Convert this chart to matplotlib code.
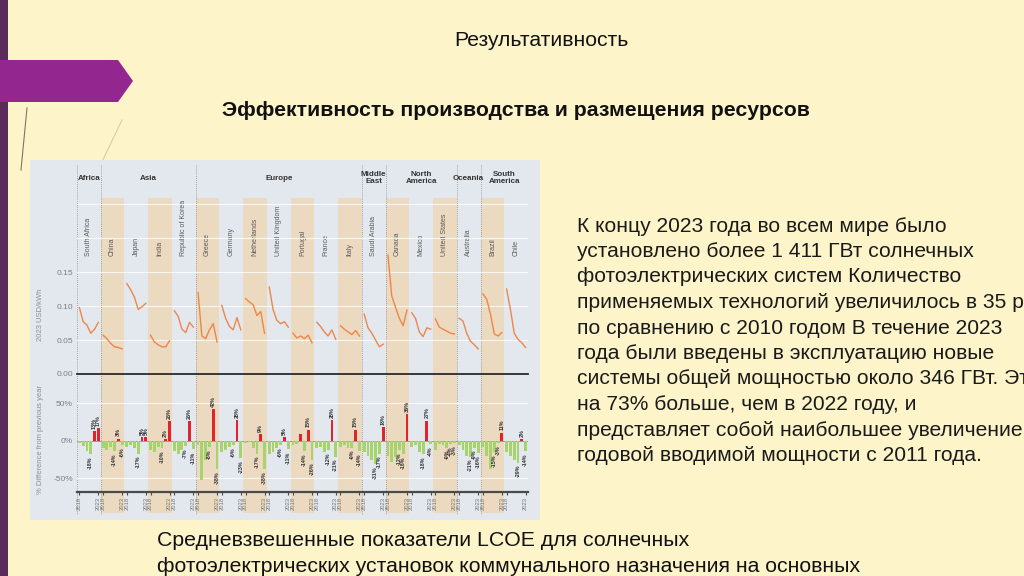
import numpy as np
import matplotlib
matplotlib.use('Agg')
import matplotlib.pyplot as plt
from matplotlib.patches import Polygon, Rectangle

plt.rcParams['font.family'] = ['Liberation Sans', 'DejaVu Sans']

# ---- data ----
regions = ['Africa', 'Asia', 'Europe', 'Middle\nEast', 'North\nAmerica', 'Oceania', 'South\nAmerica']
region_sizes = [1, 4, 7, 1, 3, 1, 2]
countries = ['South Africa', 'China', 'Japan', 'India', 'Republic of Korea',
             'Greece', 'Germany', 'Netherlands', 'United Kingdom', 'Portugal',
             'France', 'Italy', 'Saudi Arabia', 'Canada', 'Mexico',
             'United States', 'Australia', 'Brazil', 'Chile']
years = ['2018', '2019', '2020', '2021', '2022', '2023']

# LCOE, 2023 USD/kWh, 2018..2023
lcoe = [
    [0.098, 0.077, 0.072, 0.060, 0.066, 0.076],
    [0.057, 0.052, 0.045, 0.040, 0.039, 0.037],
    [0.133, 0.124, 0.113, 0.095, 0.099, 0.104],
    [0.057, 0.047, 0.043, 0.040, 0.040, 0.049],
    [0.093, 0.085, 0.066, 0.061, 0.076, 0.069],
    [0.120, 0.056, 0.052, 0.065, 0.074, 0.047],
    [0.101, 0.082, 0.070, 0.065, 0.083, 0.065],
    [0.111, 0.106, 0.102, 0.086, 0.092, 0.060],
    [0.128, 0.095, 0.079, 0.074, 0.077, 0.069],
    [0.060, 0.053, 0.056, 0.052, 0.057, 0.046],
    [0.076, 0.070, 0.062, 0.056, 0.065, 0.051],
    [0.071, 0.066, 0.062, 0.058, 0.064, 0.056],
    [0.088, 0.068, 0.060, 0.050, 0.040, 0.044],
    [0.175, 0.115, 0.098, 0.082, 0.071, 0.094],
    [0.090, 0.082, 0.062, 0.055, 0.068, 0.066],
    [0.081, 0.069, 0.066, 0.063, 0.060, 0.059],
    [0.082, 0.078, 0.060, 0.048, 0.043, 0.037],
    [0.118, 0.110, 0.088, 0.059, 0.056, 0.061],
    [0.125, 0.095, 0.060, 0.051, 0.046, 0.039],
]

# % difference from previous year, 2018..2023
pct = [
    [-3, -7, -14, -18, 13, 17],
    [-10, -12, -8, -14, 3, -6],
    [-8, -6, -10, -17, 5, 5],
    [-12, -15, -8, -10, 2, 26],
    [-14, -18, -12, -7, 26, -11],
    [-5, -52, -25, -8, 42, -38],
    [-15, -12, -8, -6, 28, -23],
    [-3, -2, -10, -17, 9, -38],
    [-18, -15, -10, -6, 5, -11],
    [-6, -4, 9, -14, 15, -26],
    [-10, -8, -15, -12, 28, -21],
    [-8, -6, -10, -9, 15, -14],
    [-15, -20, -25, -31, -17, 18],
    [-20, -28, -22, -12, -18, 36],
    [-8, -5, -15, -18, 27, -4],
    [-12, -4, -6, -9, -4, -3],
    [-5, -12, -20, -21, -9, -16],
    [-8, -20, -37, -15, -3, 11],
    [-15, -20, -25, -29, 2, -14],
]

body_lines = [
    'К концу 2023 года во всем мире было',
    'установлено более 1 411 ГВт солнечных',
    'фотоэлектрических систем Количество',
    'применяемых технологий увеличилось в 35 раз',
    'по сравнению с 2010 годом В течение 2023',
    'года были введены в эксплуатацию новые',
    'системы общей мощностью около 346 ГВт. Это',
    'на 73% больше, чем в 2022 году, и',
    'представляет собой наибольшее увеличение',
    'годовой вводимой мощности с 2011 года.',
]
bottom_lines = [
    'Средневзвешенные показатели LCOE для солнечных',
    'фотоэлектрических установок коммунального назначения на основных',
]

W, H = 1024, 576
BG = '#FEF4CA'
CHART_BG = '#E3E8EE'
TAN = '#EBDAC0'


def box(x0, y0, x1, y1):
    return [x0 / W, 1 - y1 / H, (x1 - x0) / W, (y1 - y0) / H]


fig = plt.figure(figsize=(W / 100, H / 100), dpi=100, facecolor=BG)

# slide decoration
slide = fig.add_axes([0, 0, 1, 1])
slide.set_xlim(0, W)
slide.set_ylim(H, 0)
slide.axis('off')
slide.add_patch(Rectangle((0, 0), 8, H, color='#5B2B5C', lw=0))
slide.add_patch(Polygon([(0, 60), (118, 60), (133, 81), (118, 102), (0, 102)], color='#93278F', lw=0))
slide.plot([27, 21], [108, 170], color='#7F7468', lw=0.8)
slide.plot([122, 98], [120, 170], color='#D9CCA4', lw=0.8)

slide.text(541, 41, 'Результативность', ha='center', va='center', fontsize=15.2, color='#111111')
slide.text(516, 110, 'Эффективность производства и размещения ресурсов', ha='center',
           va='center', fontsize=15.3, weight='bold', color='#111111')
for k, line in enumerate(body_lines):
    slide.text(577, 226 + k * 25.5, line, ha='left', va='center', fontsize=15.1, color='#1A1A1A')
for k, line in enumerate(bottom_lines):
    slide.text(157, 541 + k * 25, line, ha='left', va='center', fontsize=15.3, color='#111111')

# chart picture background
frame = fig.add_axes(box(30, 160, 540, 520))
frame.set_facecolor(CHART_BG)
frame.set_xlim(30, 540)
frame.set_ylim(520, 160)
frame.set_xticks([])
frame.set_yticks([])
for s in frame.spines.values():
    s.set_visible(False)
frame.text(40, 315, '2023 USD/kWh', rotation=90, ha='center', va='center', fontsize=5.5, color='#8A8F96')
frame.text(40, 440, '% Difference from previous year', rotation=90, ha='center', va='center',
           fontsize=5.5, color='#8A8F96')

n = len(countries)
g = fig.add_axes(box(77, 160, 528, 520))
g.set_xlim(0, n)
g.set_ylim(520, 160)
g.axis('off')
g.patch.set_alpha(0)
for i in range(1, n, 2):
    g.fill_between([i, i + 1], 198, 513, color=TAN, lw=0)
bounds = np.concatenate([[0], np.cumsum(region_sizes)])
for b in bounds:
    g.plot([b, b], [165, 515], ls=(0, (1, 1.5)), color='#8C8C8C', lw=0.6)
for k, name in enumerate(regions):
    cx = (bounds[k] + bounds[k + 1]) / 2
    g.text(cx, 178, name, ha='center', va='center', fontsize=5.8, weight='bold',
           color='#333333', linespacing=0.95)
for i, name in enumerate(countries):
    g.text(i + 0.5, 256, name, rotation=90, ha='center', va='bottom', fontsize=5, color='#5A5A5A')

# year positions inside each country column
offs = np.linspace(0.1, 0.9, len(years))

top = fig.add_axes(box(77, 198, 528, 374))
top.patch.set_alpha(0)
top.set_xlim(0, n)
top.set_ylim(0, 0.259)
for s in top.spines.values():
    s.set_visible(False)
top.set_xticks([])
top.set_yticks([0, 0.05, 0.10, 0.15])
top.set_yticklabels(['0.00', '0.05', '0.10', '0.15'])
top.tick_params(axis='y', length=0, pad=3, labelsize=6, labelcolor='#7A7F86')
for v in [0.05, 0.10, 0.15, 0.20, 0.25]:
    top.axhline(v, color='white', lw=0.8, alpha=0.8, zorder=1)
top.axhline(0, color='#2A2A2A', lw=1.3, zorder=3, clip_on=False)
for i in range(n):
    top.plot(i + offs, lcoe[i], color='#EE8649', lw=1.0, zorder=2)

bot = fig.add_axes(box(77, 374, 528, 492))
bot.patch.set_alpha(0)
bot.set_xlim(0, n)
bot.set_ylim(-68, 89)
for name, s in bot.spines.items():
    s.set_visible(name == 'bottom')
bot.spines['bottom'].set_color('#4A4A4A')
bot.spines['bottom'].set_linewidth(1.6)
bot.set_yticks([-50, 0, 50])
bot.set_yticklabels(['-50%', '0%', '50%'])
bot.tick_params(axis='y', length=0, pad=3, labelsize=6, labelcolor='#7A7F86')
for v in [-50, 50]:
    bot.axhline(v, color='white', lw=0.8, alpha=0.8, zorder=1)
bot.axhline(0, color='#9A9A9A', lw=0.7, zorder=1)

xt, xl = [], []
for i in range(n):
    xs = i + offs
    vals = np.array(pct[i])
    cols = ['#E1232B' if v > 0 else '#A6D36C' for v in vals]
    bot.bar(xs, vals, width=0.12, color=cols, lw=0, zorder=2)
    for j in range(len(years) - 3, len(years)):
        v = vals[j]
        if v >= 0:
            bot.text(xs[j], v + 3, f'{v}%', rotation=90, ha='center', va='bottom',
                     fontsize=3.9, weight='bold', color='#333333', zorder=4)
        else:
            bot.text(xs[j], v - 3, f'{v}%', rotation=90, ha='center', va='top',
                     fontsize=3.9, weight='bold', color='#333333', zorder=4)
    xt += [xs[0], xs[-1]]
    xl += [years[0], years[-1]]
bot.set_xticks(xt)
bot.set_xticklabels(xl, rotation=90)
bot.tick_params(axis='x', length=2, width=0.8, color='#4A4A4A', pad=1.5,
                labelsize=4.2, labelcolor='#777777')

fig.savefig('out.png', dpi=100, facecolor=BG)
